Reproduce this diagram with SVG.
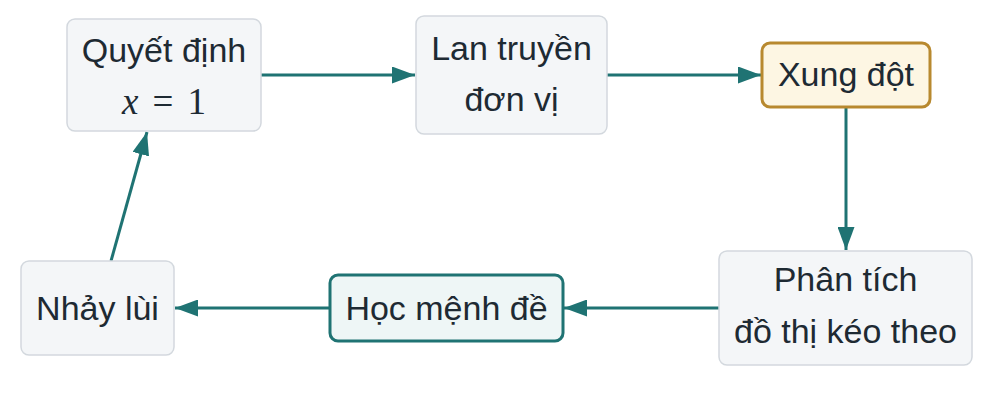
<svg xmlns="http://www.w3.org/2000/svg" width="993" height="420" viewBox="0 0 993 420">
<style>
.node rect{fill:#f4f6f8;stroke:#d3d8de;stroke-width:1.5}
.t{font-family:"Liberation Sans",Arial,sans-serif;font-size:34px;fill:#1e2a33;text-anchor:middle}
.m{font-family:"Liberation Serif","Times New Roman",serif;font-size:37px;fill:#1e2a33}
.edge{stroke:#1f7373;stroke-width:3;fill:none}
#conflict rect{fill:#fdf6e3;stroke:#b8892f;stroke-width:3}
#learn rect{fill:#eef6f6;stroke:#1f7373;stroke-width:3}
</style>
<defs>
<marker id="arr" viewBox="0 0 23 17" refX="23" refY="8.5" markerWidth="23" markerHeight="17" markerUnits="userSpaceOnUse" orient="auto">
<path d="M0,0 L23,8.5 L0,17 z" fill="#1f7373"/>
</marker>
</defs>
<rect width="993" height="420" fill="#ffffff"/>
<g id="connectors">
<line class="edge" x1="261" y1="75" x2="415" y2="75" marker-end="url(#arr)"/>
<line class="edge" x1="607" y1="75" x2="761" y2="75" marker-end="url(#arr)"/>
<line class="edge" x1="846" y1="107" x2="846" y2="250" marker-end="url(#arr)"/>
<line class="edge" x1="719" y1="308" x2="564" y2="308" marker-end="url(#arr)"/>
<line class="edge" x1="330" y1="308" x2="175" y2="308" marker-end="url(#arr)"/>
<line class="edge" x1="111" y1="261" x2="147" y2="132" marker-end="url(#arr)"/>
</g>
<g id="decide" class="node">
<rect x="67" y="19" width="194" height="112" rx="8"/>
<text class="t" x="164" y="62">Quyết định</text>
<text x="164" y="114" text-anchor="middle"><tspan class="m" font-style="italic">x</tspan><tspan class="m" dx="14">=</tspan><tspan class="m" dx="14">1</tspan></text>
</g>
<g id="propagate" class="node">
<rect x="416" y="16" width="191" height="118" rx="8"/>
<text class="t" x="511.5" y="60">Lan truyền</text>
<text class="t" x="511.5" y="111">đơn vị</text>
</g>
<g id="conflict" class="node">
<rect x="762" y="43" width="168" height="64" rx="8"/>
<text class="t" x="846" y="86">Xung đột</text>
</g>
<g id="analyze" class="node">
<rect x="719" y="251" width="253" height="114" rx="8"/>
<text class="t" x="845.5" y="291">Phân tích</text>
<text class="t" x="845.5" y="343">đồ thị kéo theo</text>
</g>
<g id="learn" class="node">
<rect x="330" y="275" width="233" height="66" rx="8"/>
<text class="t" x="446.5" y="320">Học mệnh đề</text>
</g>
<g id="backjump" class="node">
<rect x="21" y="261" width="153" height="94" rx="8"/>
<text class="t" x="97.5" y="320">Nhảy lùi</text>
</g>
</svg>
